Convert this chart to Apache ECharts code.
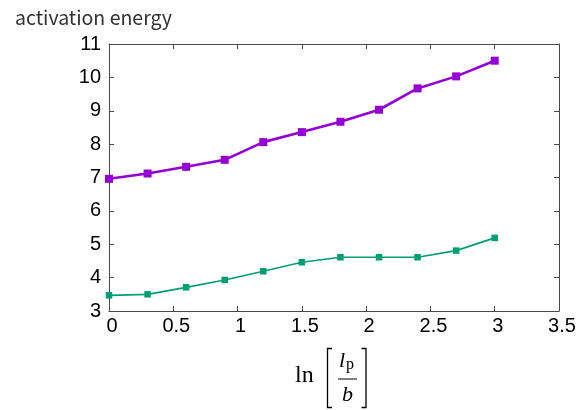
<!DOCTYPE html>
<html>
<head>
<meta charset="utf-8">
<script src="https://cdn.jsdelivr.net/npm/echarts@6/dist/echarts.min.js"></script>
<style>html,body{margin:0;padding:0;background:#fff}#c{width:579px;height:410px}</style>
</head>
<body>
<div id="c"></div>
<script>
const xValues = [0, 0.3, 0.6, 0.9, 1.2, 1.5, 1.8, 2.1, 2.4, 2.7, 3.0];
const purpleValues = [6.96, 7.12, 7.32, 7.53, 8.06, 8.36, 8.67, 9.03, 9.67, 10.03, 10.5];
const greenValues = [3.47, 3.50, 3.71, 3.93, 4.19, 4.46, 4.61, 4.61, 4.61, 4.81, 5.19];
const xTicks = [0, 0.5, 1, 1.5, 2, 2.5, 3, 3.5];
const yTicks = [3, 4, 5, 6, 7, 8, 9, 10, 11];
const titleText = 'activation energy';

const chart = echarts.init(document.getElementById('c'));
const axisColor = '#4a4a4a';
const labelFont = { color: '#000', fontSize: 20, fontFamily: '"Liberation Sans", Arial, sans-serif' };
function xAxisDef(pos, show) {
  return {
    type: 'value', position: pos, min: xTicks[0], max: xTicks[xTicks.length - 1], interval: 0.5,
    axisLine: { show: true, onZero: false, lineStyle: { color: axisColor, width: 1 } },
    axisTick: { show: true, inside: true, length: 5, lineStyle: { color: axisColor } },
    axisLabel: Object.assign({ show: show, margin: 5, padding: [0, 0, 0, 6] }, labelFont),
    splitLine: { show: false }
  };
}
function yAxisDef(pos, show) {
  return {
    type: 'value', position: pos, min: yTicks[0], max: yTicks[yTicks.length - 1], interval: 1,
    axisLine: { show: true, onZero: false, lineStyle: { color: axisColor, width: 1 } },
    axisTick: { show: true, inside: true, length: 5, lineStyle: { color: axisColor } },
    axisLabel: Object.assign({ show: show, margin: 8 }, labelFont),
    splitLine: { show: false }
  };
}
const serif = '"Liberation Serif", "DejaVu Serif", serif';
chart.setOption({
  backgroundColor: '#fff',
  animation: false,
  title: {
    text: titleText, left: 10, top: 3,
    textStyle: { fontSize: 19.5, fontWeight: 'normal', color: '#333', fontFamily: '"Noto Sans CJK JP", "Noto Sans", sans-serif' }
  },
  grid: { left: 109, right: 20, top: 44, bottom: 99, containLabel: false },
  xAxis: [xAxisDef('bottom', true), xAxisDef('top', false)],
  yAxis: [yAxisDef('left', true), yAxisDef('right', false)],
  series: [
    {
      type: 'line', xAxisIndex: 0, yAxisIndex: 0,
      data: xValues.map((x, i) => [x, purpleValues[i]]),
      symbol: 'rect', symbolSize: 8,
      lineStyle: { color: '#9400d3', width: 2.6 },
      itemStyle: { color: '#9400d3' }
    },
    {
      type: 'line', xAxisIndex: 0, yAxisIndex: 0,
      data: xValues.map((x, i) => [x, greenValues[i]]),
      symbol: 'rect', symbolSize: 6.5,
      lineStyle: { color: '#009e73', width: 1.7 },
      itemStyle: { color: '#009e73' }
    }
  ],
  graphic: [
    { type: 'text', left: 295, top: 364, style: { text: 'ln', fontSize: 24, fontFamily: serif, fill: '#000' } },
    { type: 'polyline', shape: { points: [[332, 348.5], [327.5, 348.5], [327.5, 407.5], [332, 407.5]] }, style: { stroke: '#000', lineWidth: 1.3, fill: null } },
    { type: 'polyline', shape: { points: [[361.5, 348.5], [366, 348.5], [366, 407.5], [361.5, 407.5]] }, style: { stroke: '#000', lineWidth: 1.3, fill: null } },
    { type: 'text', left: 339, top: 350, style: { text: 'l', fontSize: 22, fontStyle: 'italic', fontFamily: serif, fill: '#000' } },
    { type: 'text', left: 346, top: 357, style: { text: 'p', fontSize: 16, fontFamily: serif, fill: '#000' } },
    { type: 'line', shape: { x1: 338, y1: 379, x2: 357, y2: 379 }, style: { stroke: '#000', lineWidth: 1 } },
    { type: 'text', left: 342, top: 384, style: { text: 'b', fontSize: 22, fontStyle: 'italic', fontFamily: serif, fill: '#000' } }
  ]
});
</script>
</body>
</html>
